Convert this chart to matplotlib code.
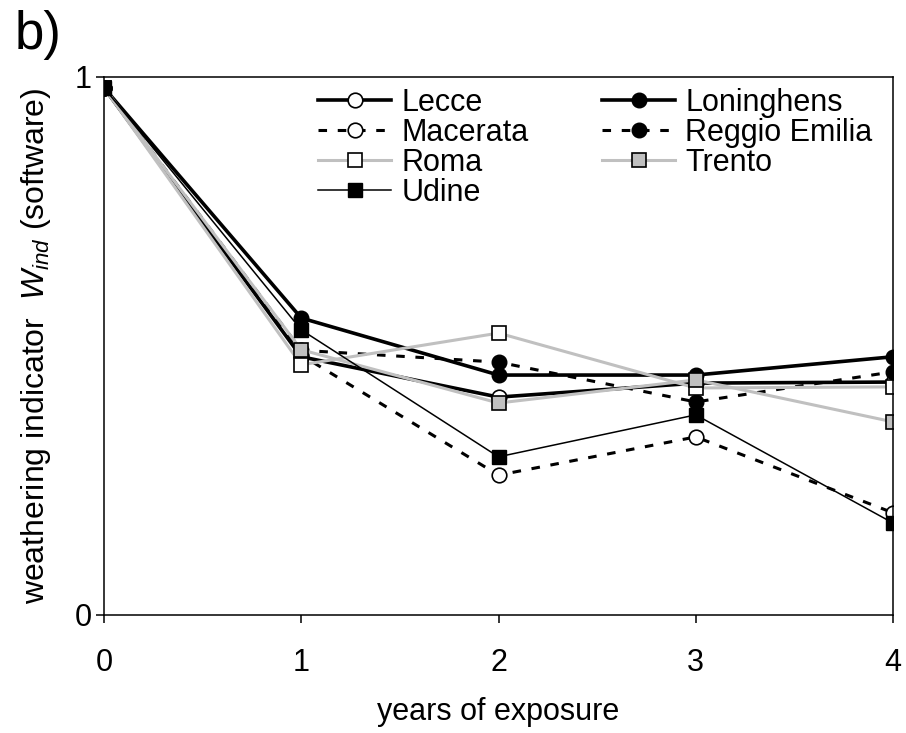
import matplotlib
matplotlib.use('Agg')
import matplotlib.pyplot as plt
import numpy as np

plt.rcParams['font.family'] = 'Liberation Sans'
plt.rcParams['mathtext.fontset'] = 'custom'
plt.rcParams['mathtext.rm'] = 'Liberation Sans'
plt.rcParams['mathtext.it'] = 'Liberation Sans:italic'

years = [0, 1, 2, 3, 4]
lecce = [0.98, 0.480, 0.405, 0.431, 0.433]
loninghens = [0.98, 0.552, 0.446, 0.446, 0.480]
macerata = [0.98, 0.483, 0.260, 0.331, 0.190]
reggio_emilia = [0.98, 0.492, 0.470, 0.396, 0.452]
roma = [0.98, 0.465, 0.524, 0.422, 0.424]
trento = [0.98, 0.493, 0.394, 0.437, 0.359]
udine = [0.98, 0.530, 0.294, 0.372, 0.171]

gray = '#c0c0c0'
dash = (0, (2.8, 3.5))
fs = 22

fig = plt.figure(figsize=(9.06, 7.33), dpi=100)
ax = fig.add_axes([104 / 906, 1 - 615 / 733, (893 - 104) / 906, (615 - 77) / 733])

ms = 10.5
l_lecce, = ax.plot(years, lecce, '-', color='black', lw=2.6, marker='o', ms=ms,
                   mfc='white', mec='black', mew=1.2, label='Lecce')
l_lon, = ax.plot(years, loninghens, '-', color='black', lw=2.6, marker='o', ms=ms,
                 mfc='black', mec='black', label='Loninghens')
l_mac, = ax.plot(years, macerata, color='black', lw=2.2, ls=dash, marker='o', ms=ms,
                 mfc='white', mec='black', mew=1.2, label='Macerata')
l_reg, = ax.plot(years, reggio_emilia, color='black', lw=2.2, ls=dash, marker='o', ms=ms,
                 mfc='black', mec='black', label='Reggio Emilia')
l_roma, = ax.plot(years, roma, '-', color=gray, lw=2.2, marker='s', ms=ms,
                  mfc='white', mec='black', mew=1.2, label='Roma')
l_tre, = ax.plot(years, trento, '-', color=gray, lw=2.2, marker='s', ms=ms,
                 mfc=gray, mec='black', mew=1.2, label='Trento')
l_udi, = ax.plot(years, udine, '-', color='black', lw=1.1, marker='s', ms=ms,
                 mfc='black', mec='black', label='Udine')

ax.set_xlim(0, 4)
ax.set_ylim(0, 1)
ax.set_xticks([0, 1, 2, 3, 4])
ax.set_yticks([0, 1])
ax.tick_params(direction='out', length=6, width=1.1, labelsize=fs)
ax.tick_params(axis='x', pad=18)
ax.tick_params(axis='y', pad=3)
for s in ax.spines.values():
    s.set_linewidth(1.1)

ax.set_xlabel('years of exposure', fontsize=fs)
ax.xaxis.set_label_coords(0.5, -(712 - 615) / 538, transform=ax.transAxes)
ax.xaxis.label.set_va('center')
ax.set_ylabel(r'weathering indicator  $W_{ind}$ (software)', fontsize=23)
ax.yaxis.set_label_coords(-(104 - 36) / 789, 0.5, transform=ax.transAxes)
ax.yaxis.label.set_va('center')

handles = [l_lecce, l_mac, l_roma, l_udi, l_lon, l_reg, l_tre]
ax.legend(handles=handles, ncol=2, frameon=False, fontsize=fs,
          loc='upper left', bbox_to_anchor=(318 / 906, 1 - 88 / 733),
          bbox_transform=fig.transFigure,
          handlelength=2.4, handletextpad=0.33, labelspacing=0.0,
          columnspacing=2.4, borderpad=0, borderaxespad=0)

fig.text(15 / 906, 1 - 10 / 733, 'b)', fontsize=38, va='top', ha='left')

fig.savefig('out.png', dpi=100)
